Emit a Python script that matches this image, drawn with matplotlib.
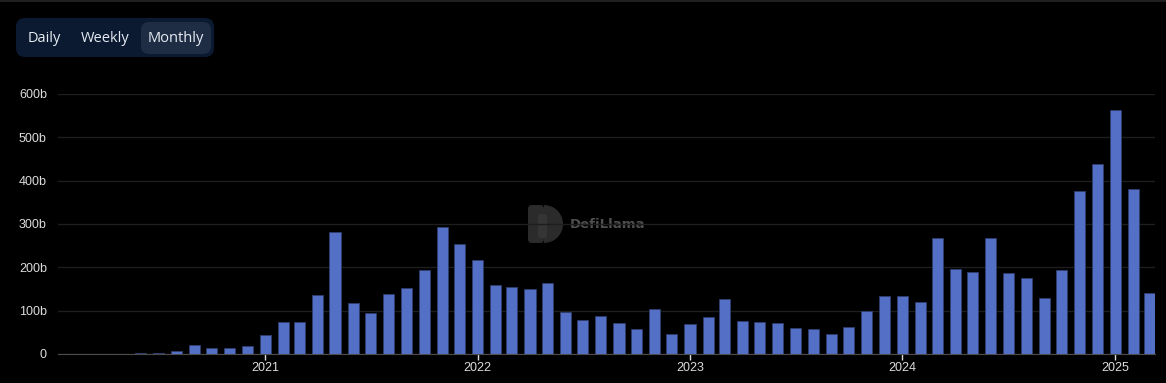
import matplotlib.pyplot as plt
from matplotlib.patches import FancyBboxPatch, Rectangle, Wedge
import pandas as pd

plt.rcParams["font.family"] = ["Liberation Sans", "DejaVu Sans"]

# monthly volume, in billions (Feb 2020 .. Mar 2025)
months = pd.date_range("2020-02-01", "2025-03-01", freq="MS")
vol2020 = [0.5, 0.6, 0.6, 0.8, 1.2, 3, 7, 20, 13, 13, 18]
vol2021 = [44.6, 74, 73, 137, 281, 118, 94.6, 138.5, 151.5, 195, 292, 254]
vol2022 = [217.7, 159, 154, 149, 165, 96, 77.7, 87, 71.5, 58.5, 104, 45.4]
vol2023 = [68.4, 85.4, 126, 76, 74, 71.5, 60, 57.7, 46, 61.5, 98.4, 134]
vol2024 = [134, 120, 267, 196, 189, 268.5, 186, 175, 130, 195, 376, 438]
vol2025 = [563, 380, 141.5]
volume = vol2020 + vol2021 + vol2022 + vol2023 + vol2024 + vol2025

yticks = [0, 100, 200, 300, 400, 500, 600]
ylabels = ["0", "100b", "200b", "300b", "400b", "500b", "600b"]
years = ["2021", "2022", "2023", "2024", "2025"]
buttons = ["Daily", "Weekly", "Monthly"]

W, H = 1166, 383
fig = plt.figure(figsize=(W / 100, H / 100), dpi=100, facecolor="black")

# overlay in pixel coords for the page bits (switcher, watermark, border)
ui = fig.add_axes([0, 0, 1, 1])
ui.set_xlim(0, W)
ui.set_ylim(H, 0)
ui.axis("off")
ui.set_zorder(0)

ui.add_patch(Rectangle((0, 0), W, 2, facecolor="#202020", edgecolor="none"))
ui.add_patch(FancyBboxPatch((16, 18), 198, 39, boxstyle="round,pad=0,rounding_size=9",
                            facecolor="#0b1a30", edgecolor="none"))
ui.add_patch(FancyBboxPatch((141, 22), 70, 32, boxstyle="round,pad=0,rounding_size=8",
                            facecolor="#1f2d44", edgecolor="none"))
for label, cx in zip(buttons, [44, 105, 176]):
    ui.text(cx, 38.5, label, color="#e6ebf3", fontsize=10.5,
            ha="center", va="center", family=["Open Sans", "DejaVu Sans"])

# watermark: D-shaped logo + name
ui.add_patch(FancyBboxPatch((528, 205), 16, 38, boxstyle="round,pad=0,rounding_size=4",
                            facecolor="#2b2b2b", edgecolor="none"))
ui.add_patch(Wedge((544, 224), 19, -90, 90, facecolor="#2b2b2b", edgecolor="none"))
ui.add_patch(FancyBboxPatch((538, 214), 9, 24, boxstyle="round,pad=0,rounding_size=3",
                            facecolor="#353535", edgecolor="none"))
ui.text(570, 225, "DefiLlama", color="#4f4f4f", fontsize=9.5,
        fontweight="bold", va="center", ha="left", family=["DejaVu Sans"])

# plot area (pixel box: x 58..1155, y 94..354)
ax = fig.add_axes([58 / W, (H - 354) / H, (1155 - 58) / W, (354 - 94) / H])
ax.set_zorder(1)
ax.patch.set_alpha(0)
ax.bar(months, volume, width=19, color="#5470c6", edgecolor="#2f3f6e",
       linewidth=0.6, zorder=3)
ax.set_ylim(0, 600)
ax.set_xlim(pd.Timestamp("2020-01-11"), pd.Timestamp("2025-03-10"))
ax.set_yticks(yticks)
ax.set_yticklabels(ylabels)
ax.set_xticks([pd.Timestamp(y + "-01-01") for y in years])
ax.set_xticklabels(years)
ax.grid(axis="y", color="#1e1e1e", linewidth=1, zorder=0)
for s in ["top", "right", "left"]:
    ax.spines[s].set_visible(False)
ax.spines["bottom"].set_color("#4d4d4d")
ax.spines["bottom"].set_zorder(4)
ax.tick_params(axis="y", length=0, pad=8, labelsize=9, labelcolor="#dcdcdc")
ax.tick_params(axis="x", length=4, width=1, color="#dcdcdc", pad=2,
               labelsize=9, labelcolor="#dcdcdc")

fig.savefig("out.png", dpi=100, facecolor="black")
